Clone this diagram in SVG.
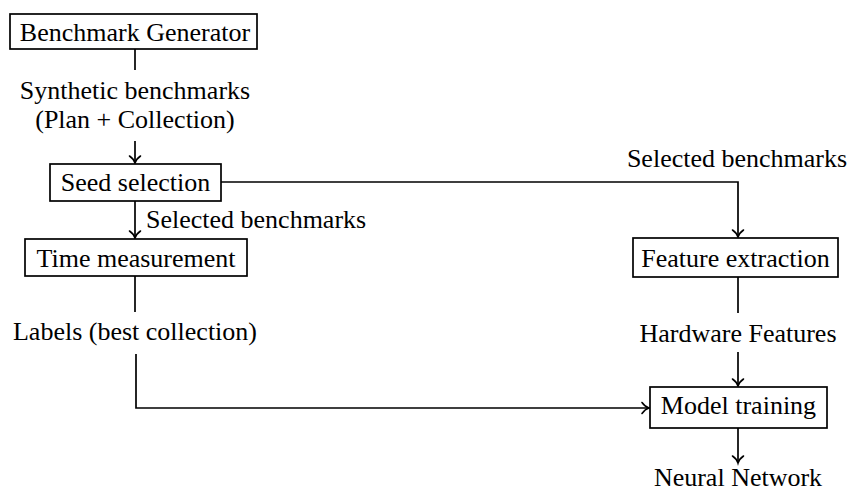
<svg xmlns="http://www.w3.org/2000/svg" width="850" height="493" viewBox="0 0 850 493">
<style>
.box{fill:#fff;stroke:#000;stroke-width:1.7}
.t{font-family:"Liberation Serif","Times New Roman",serif;font-size:26px;fill:#000}
.c{text-anchor:middle}
.ln{fill:none;stroke:#000;stroke-width:1.7}
</style>
<defs>
<marker id="arr" markerUnits="userSpaceOnUse" viewBox="-9 -8 11 16" markerWidth="11" markerHeight="16" refX="0" refY="0" orient="auto" overflow="visible">
<path d="M -7,-5.5 C -4.5,-2 -1.5,-0.4 0,0 C -1.5,0.4 -4.5,2 -7,5.5" fill="none" stroke="#000" stroke-width="1.6" stroke-linecap="round"/>
</marker>
</defs>
<rect width="850" height="493" fill="#fff"/>
<g id="connectors">
<line class="ln" x1="135" y1="49" x2="135" y2="70"/>
<line class="ln" x1="135" y1="141" x2="135" y2="163" marker-end="url(#arr)"/>
<line class="ln" x1="135" y1="201" x2="135" y2="238" marker-end="url(#arr)"/>
<line class="ln" x1="135" y1="276" x2="135" y2="312"/>
<polyline class="ln" points="136,354 136,408 649,408" marker-end="url(#arr)"/>
<polyline class="ln" points="221,182 738,182 738,237" marker-end="url(#arr)"/>
<line class="ln" x1="738" y1="277" x2="738" y2="313"/>
<line class="ln" x1="738" y1="352" x2="738" y2="386" marker-end="url(#arr)"/>
<line class="ln" x1="738" y1="428" x2="738" y2="463" marker-end="url(#arr)"/>
</g>
<g id="benchmark-generator">
<rect class="box" x="10" y="14" width="247" height="35"/>
<text class="t c" x="135" y="41">Benchmark Generator</text>
</g>
<g id="synthetic-label">
<text class="t c" x="135" y="99">Synthetic benchmarks</text>
<text class="t c" x="135" y="128">(Plan + Collection)</text>
</g>
<g id="seed-selection">
<rect class="box" x="50" y="164" width="171" height="37"/>
<text class="t c" x="135.5" y="191">Seed selection</text>
</g>
<g id="selected-label-left">
<text class="t" x="146" y="228">Selected benchmarks</text>
</g>
<g id="time-measurement">
<rect class="box" x="25" y="239" width="222" height="37"/>
<text class="t c" x="136" y="267">Time measurement</text>
</g>
<g id="labels-label">
<text class="t c" x="135" y="340">Labels (best collection)</text>
</g>
<g id="selected-label-right">
<text class="t c" x="737" y="167">Selected benchmarks</text>
</g>
<g id="feature-extraction">
<rect class="box" x="633" y="238" width="205" height="39"/>
<text class="t c" x="735.5" y="267">Feature extraction</text>
</g>
<g id="hardware-label">
<text class="t c" x="738" y="342">Hardware Features</text>
</g>
<g id="model-training">
<rect class="box" x="650" y="387" width="177" height="41"/>
<text class="t c" x="738.5" y="414">Model training</text>
</g>
<g id="neural-network">
<text class="t c" x="738" y="486">Neural Network</text>
</g>
</svg>
